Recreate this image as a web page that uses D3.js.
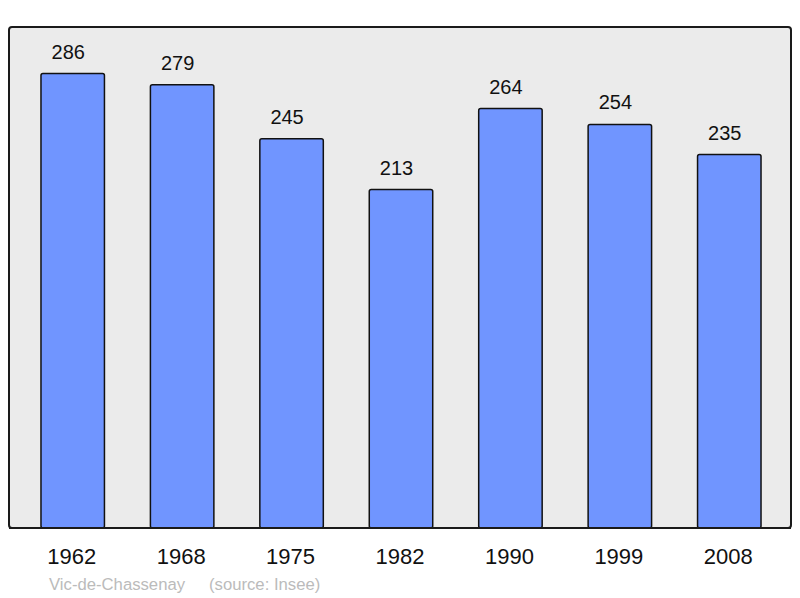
<!DOCTYPE html>
<html>
<head>
  <meta charset="utf-8">
  <title>Vic-de-Chassenay population</title>
  <style>
    body { margin: 0; font-family: "Liberation Sans", Arial, sans-serif; background: #fff; }
  </style>
  <script src="https://d3js.org/d3.v7.min.js"></script>
</head>
<body>
  <div id="chart"></div>
  <script>
    const years = ["1962", "1968", "1975", "1982", "1990", "1999", "2008"];
    const population = [286, 279, 245, 213, 264, 254, 235];

    const W = 800, H = 598;
    const frame = { left: 9, top: 27, right: 791, bottom: 528 };

    const svg = d3.select("#chart").append("svg")
      .attr("width", W)
      .attr("height", H);

    // plot background
    svg.append("rect")
      .attr("x", frame.left)
      .attr("y", frame.top)
      .attr("width", frame.right - frame.left)
      .attr("height", frame.bottom - frame.top)
      .attr("rx", 3)
      .style("fill", "#EBEBEB")
      .style("stroke", "#1a1a1a")
      .style("stroke-width", 2);

    const x = d3.scaleBand()
      .domain(years)
      .range([18, 784])
      .paddingInner(0.42)
      .paddingOuter(0.21);

    const y = d3.scaleLinear()
      .domain([0, 315.3])
      .range([frame.bottom, frame.top]);

    const data = years.map((yr, i) => ({ year: yr, value: population[i] }));

    svg.selectAll(".bar")
      .data(data)
      .enter()
      .append("rect")
      .attr("class", "bar")
      .attr("x", d => x(d.year))
      .attr("y", d => y(d.value))
      .attr("width", x.bandwidth())
      .attr("height", d => y(0) - y(d.value))
      .attr("rx", 2)
      .style("fill", "#7095FF")
      .style("stroke", "#111")
      .style("stroke-width", 1.5);

    // value labels sit a little left of the bar centre, like the original
    svg.selectAll(".val")
      .data(data)
      .enter()
      .append("text")
      .attr("x", d => x(d.year) + x.bandwidth() / 2 - 4.5)
      .attr("y", d => y(d.value) - 15)
      .attr("text-anchor", "middle")
      .style("font-size", "20px")
      .style("fill", "#111")
      .text(d => d.value);

    // redraw bottom edge over bars
    svg.append("line")
      .attr("x1", frame.left)
      .attr("x2", frame.right)
      .attr("y1", frame.bottom)
      .attr("y2", frame.bottom)
      .style("stroke", "#1a1a1a")
      .style("stroke-width", 2);

    const xAxis = svg.append("g")
      .attr("transform", `translate(0,${frame.bottom})`)
      .call(d3.axisBottom(x).tickSize(0).tickPadding(20));
    xAxis.select(".domain").remove();
    xAxis.selectAll("text")
      .attr("dx", -1)
      .style("font-family", "Liberation Sans, Arial, sans-serif")
      .style("font-size", "22px")
      .style("fill", "#111");

    svg.append("text")
      .attr("x", 49)
      .attr("y", 590)
      .style("font-size", "16.7px")
      .style("fill", "#bbbbbb")
      .text("Vic-de-Chassenay");

    svg.append("text")
      .attr("x", 209)
      .attr("y", 590)
      .style("font-size", "16.7px")
      .style("fill", "#bbbbbb")
      .text("(source: Insee)");
  </script>
</body>
</html>
